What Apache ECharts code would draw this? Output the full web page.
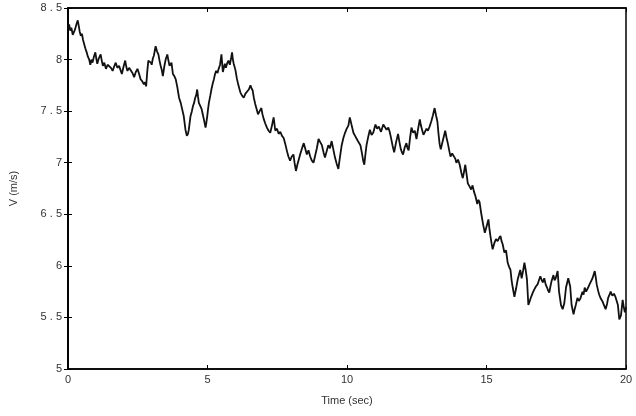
<!DOCTYPE html>
<html>
<head>
<meta charset="utf-8">
<script src="https://cdn.jsdelivr.net/npm/echarts@6/dist/echarts.min.js"></script>
<style>
  html, body { margin: 0; padding: 0; background: #fff; }
  #chart { width: 636px; height: 416px; }
</style>
</head>
<body>
<div id="chart"></div>
<script>
// time (sec) and wind speed V (m/s)
const timeSec = [
  0.00,0.04,0.08,0.12,0.17,0.22,0.26,0.30,0.35,0.39,0.42,0.46,0.50,0.54,0.58,0.62,0.67,0.71,0.76,0.80,
  0.84,0.88,0.93,0.98,1.02,1.05,1.10,1.17,1.21,1.25,1.30,1.36,1.42,1.48,1.54,1.60,1.65,1.71,1.77,1.83,
  1.88,1.93,1.99,2.05,2.09,2.13,2.19,2.25,2.31,2.37,2.43,2.49,2.55,2.60,2.66,2.72,2.76,2.80,2.84,2.88,
  2.93,2.97,3.00,3.04,3.08,3.14,3.19,3.24,3.28,3.32,3.36,3.40,3.45,3.50,3.56,3.60,3.64,3.71,3.76,3.81,
  3.86,3.92,3.98,4.04,4.10,4.15,4.21,4.26,4.30,4.33,4.39,4.44,4.48,4.52,4.55,4.60,4.63,4.66,4.69,4.74,
  4.79,4.83,4.87,4.93,4.96,4.99,5.02,5.05,5.10,5.14,5.19,5.23,5.27,5.31,5.36,5.40,5.45,5.50,5.55,5.62,
  5.66,5.70,5.75,5.80,5.85,5.88,5.91,5.94,6.00,6.05,6.10,6.14,6.18,6.24,6.30,6.36,6.43,6.48,6.54,6.58,
  6.62,6.66,6.71,6.76,6.81,6.87,6.93,6.97,7.02,7.07,7.13,7.19,7.25,7.31,7.37,7.43,7.49,7.55,7.61,7.67,
  7.73,7.79,7.85,7.90,7.96,8.02,8.08,8.12,8.17,8.22,8.26,8.33,8.40,8.45,8.50,8.56,8.62,8.68,8.74,8.80,
  8.86,8.92,8.98,9.04,9.10,9.16,9.21,9.27,9.33,9.39,9.45,9.51,9.57,9.63,9.69,9.75,9.81,9.87,9.93,9.99,
  10.05,10.10,10.16,10.23,10.29,10.35,10.41,10.48,10.53,10.58,10.62,10.66,10.70,10.76,10.82,10.88,10.94,11.02,11.08,11.14,
  11.22,11.30,11.36,11.42,11.48,11.53,11.57,11.63,11.69,11.76,11.83,11.88,11.93,11.97,12.01,12.07,12.13,12.17,12.21,12.26,
  12.31,12.37,12.43,12.49,12.55,12.61,12.65,12.69,12.74,12.79,12.85,12.90,12.96,13.02,13.08,13.14,13.19,13.24,13.28,13.32,
  13.36,13.44,13.52,13.57,13.62,13.67,13.71,13.77,13.83,13.88,13.92,13.98,14.04,14.10,14.15,14.20,14.24,14.29,14.33,14.39,
  14.45,14.50,14.55,14.60,14.67,14.71,14.75,14.81,14.88,14.94,15.00,15.04,15.07,15.10,15.14,15.18,15.22,15.28,15.34,15.40,
  15.45,15.50,15.54,15.58,15.64,15.70,15.76,15.81,15.86,15.90,15.94,16.00,16.06,16.12,16.17,16.21,16.26,16.31,16.36,16.41,
  16.45,16.50,16.55,16.60,16.66,16.71,16.77,16.83,16.88,16.93,16.98,17.02,17.07,17.12,17.17,17.21,17.25,17.29,17.33,17.40,
  17.44,17.48,17.55,17.60,17.67,17.73,17.79,17.85,17.93,18.00,18.05,18.12,18.16,18.20,18.26,18.31,18.36,18.44,18.48,18.52,
  18.57,18.62,18.66,18.71,18.80,18.88,18.92,18.95,19.00,19.04,19.10,19.15,19.21,19.27,19.32,19.36,19.41,19.45,19.51,19.57,
  19.62,19.67,19.71,19.76,19.82,19.88,19.92,19.96,20.00
];
const speed = [
  8.30,8.34,8.28,8.31,8.24,8.27,8.30,8.34,8.38,8.32,8.27,8.23,8.25,8.19,8.18,8.11,8.07,8.03,8.00,7.95,
  8.00,7.97,8.03,8.07,8.00,7.96,8.01,8.05,7.99,7.94,7.97,7.91,7.95,7.96,7.92,7.89,7.93,7.97,7.92,7.94,
  7.90,7.86,7.93,7.99,7.93,7.89,7.92,7.93,7.87,7.83,7.88,7.91,7.86,7.81,7.79,7.76,7.78,7.74,7.88,7.99,
  8.00,7.97,7.95,8.01,8.04,8.13,8.08,8.05,7.99,7.94,7.90,7.84,7.93,8.00,8.05,7.99,7.94,7.97,7.86,7.84,
  7.81,7.73,7.63,7.58,7.59,7.45,7.32,7.26,7.28,7.32,7.45,7.50,7.55,7.58,7.62,7.66,7.71,7.64,7.58,7.55,
  7.52,7.47,7.42,7.34,7.39,7.45,7.52,7.58,7.65,7.71,7.77,7.81,7.86,7.89,7.87,7.91,7.95,8.05,7.88,7.96,
  7.92,7.96,7.99,7.95,8.02,8.07,8.00,7.96,7.90,7.82,7.76,7.72,7.68,7.65,7.63,7.67,7.66,7.71,7.75,7.72,
  7.70,7.63,7.57,7.52,7.47,7.50,7.53,7.47,7.42,7.38,7.34,7.31,7.29,7.36,7.44,7.31,7.33,7.28,7.30,7.26,
  7.24,7.18,7.11,7.06,7.02,7.06,7.08,7.00,6.92,6.98,7.02,7.09,7.15,7.19,7.14,7.08,7.12,7.06,7.02,7.00,
  7.07,7.14,7.23,7.20,7.17,7.10,7.05,7.11,7.17,7.14,7.21,7.13,7.05,6.99,6.94,7.06,7.17,7.24,7.29,7.33,
  7.36,7.44,7.37,7.29,7.26,7.23,7.20,7.17,7.10,7.02,6.98,7.08,7.17,7.25,7.32,7.27,7.29,7.37,7.33,7.35,
  7.30,7.37,7.38,7.32,7.34,7.30,7.25,7.17,7.10,7.20,7.28,7.20,7.13,7.10,7.08,7.15,7.19,7.14,7.12,7.24,
  7.34,7.29,7.31,7.23,7.33,7.42,7.36,7.32,7.27,7.28,7.33,7.31,7.35,7.40,7.46,7.53,7.46,7.40,7.28,7.18,
  7.13,7.22,7.31,7.24,7.18,7.11,7.06,7.09,7.10,7.04,7.00,7.03,6.98,6.90,6.85,6.92,6.98,6.88,6.80,6.77,
  6.74,6.78,6.72,6.68,6.60,6.64,6.62,6.51,6.40,6.32,6.38,6.42,6.45,6.37,6.29,6.22,6.16,6.22,6.26,6.24,
  6.27,6.29,6.24,6.21,6.13,6.15,6.03,5.99,5.96,5.86,5.79,5.70,5.78,5.87,5.92,5.96,5.88,5.95,6.03,5.95,
  5.87,5.62,5.66,5.70,5.74,5.77,5.80,5.82,5.86,5.90,5.86,5.84,5.88,5.82,5.79,5.76,5.74,5.80,5.85,5.91,
  5.86,5.88,5.95,5.75,5.62,5.58,5.64,5.79,5.88,5.80,5.62,5.53,5.58,5.62,5.69,5.66,5.68,5.75,5.72,5.79,
  5.75,5.76,5.80,5.83,5.88,5.95,5.88,5.82,5.76,5.72,5.68,5.66,5.62,5.58,5.63,5.69,5.72,5.75,5.71,5.73,
  5.70,5.69,5.62,5.48,5.52,5.67,5.60,5.55,5.60
];
const xTicks = [0, 5, 10, 15, 20];
const yTicks = [5, 5.5, 6, 6.5, 7, 7.5, 8, 8.5];

const seriesData = timeSec.map((t, i) => [t, speed[i]]);

// matlab-ish spaced digits on the y labels
const spaced = (v) => String(v).split('').join(' ');

const labelFont = {
  fontFamily: 'Liberation Sans, Arial, sans-serif',
  fontSize: 11,
  color: '#333',
};

var myChart = echarts.init(document.getElementById('chart'));
myChart.setOption({
  animation: false,
  backgroundColor: '#fff',
  grid: {
    left: 66,
    right: 10,
    top: 8,
    bottom: 47,
    show: true,
    borderColor: '#000',
    borderWidth: 1.5,
  },
  xAxis: [
    {
      type: 'value',
      min: xTicks[0],
      max: xTicks[xTicks.length - 1],
      interval: 5,
      name: 'Time (sec)',
      nameLocation: 'middle',
      nameGap: 26,
      nameTextStyle: labelFont,
      axisLine: { show: true, lineStyle: { color: '#000', width: 1.5 } },
      axisTick: { show: true, inside: true, length: 4, lineStyle: { color: '#000' } },
      axisLabel: Object.assign({ margin: 5 }, labelFont),
      splitLine: { show: false },
    },
    {
      type: 'value',
      position: 'top',
      min: xTicks[0],
      max: xTicks[xTicks.length - 1],
      interval: 5,
      axisLine: { show: true, lineStyle: { color: '#000', width: 1.5 } },
      axisTick: { show: true, inside: true, length: 4, lineStyle: { color: '#000' } },
      axisLabel: { show: false },
      splitLine: { show: false },
    },
  ],
  yAxis: [
    {
      type: 'value',
      min: yTicks[0],
      max: yTicks[yTicks.length - 1],
      interval: 0.5,
      name: 'V (m/s)',
      nameLocation: 'middle',
      nameGap: 49,
      nameRotate: 90,
      nameTextStyle: labelFont,
      axisLine: { show: true, lineStyle: { color: '#000', width: 1.5 } },
      axisTick: { show: true, inside: true, length: 4, lineStyle: { color: '#000' } },
      axisLabel: Object.assign({ margin: 6, formatter: (v) => spaced(v) }, labelFont),
      splitLine: { show: false },
    },
    {
      type: 'value',
      position: 'right',
      min: yTicks[0],
      max: yTicks[yTicks.length - 1],
      interval: 0.5,
      axisLine: { show: true, lineStyle: { color: '#000', width: 1.5 } },
      axisTick: { show: true, inside: true, length: 4, lineStyle: { color: '#000' } },
      axisLabel: { show: false },
      splitLine: { show: false },
    },
  ],
  series: [
    {
      type: 'line',
      xAxisIndex: 0,
      yAxisIndex: 0,
      data: seriesData,
      showSymbol: false,
      lineStyle: { color: '#111', width: 1.8 },
    },
  ],
});
</script>
</body>
</html>
